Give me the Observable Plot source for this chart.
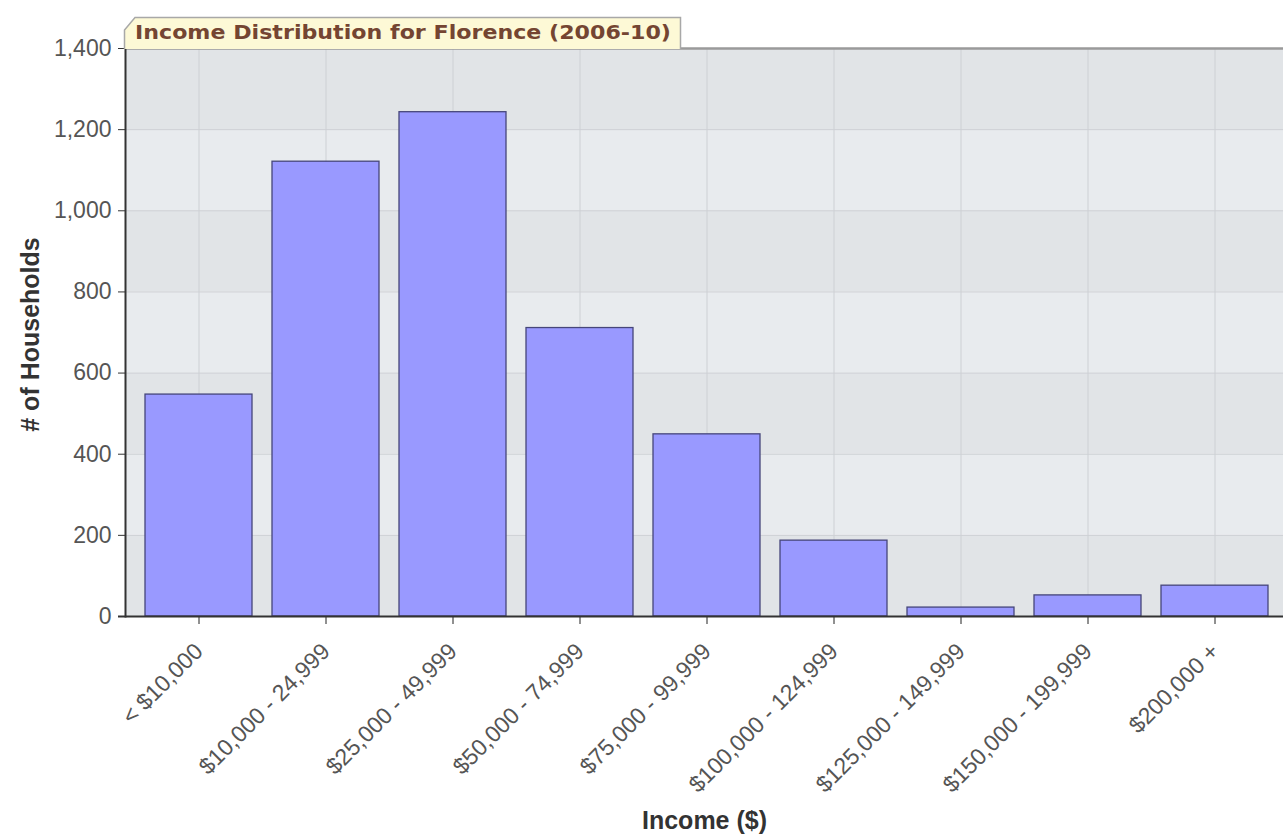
<!DOCTYPE html>
<html>
<head>
<meta charset="utf-8">
<script src="https://cdn.jsdelivr.net/npm/d3@7"></script>
<script src="https://cdn.jsdelivr.net/npm/@observablehq/plot@0.6"></script>
<style>
  html, body { margin: 0; padding: 0; background: #fff; }
  #wrap { position: relative; width: 1283px; height: 839px; }
  #title { position: absolute; left: 0; top: 0; }
</style>
</head>
<body>
<div id="wrap"></div>
<script>
const categories = ["< $10,000", "$10,000 - 24,999", "$25,000 - 49,999", "$50,000 - 74,999",
  "$75,000 - 99,999", "$100,000 - 124,999", "$125,000 - 149,999", "$150,000 - 199,999", "$200,000 +"];
const households = [547, 1121, 1243, 711, 449, 187, 22, 52, 76];
const yTicks = [0, 200, 400, 600, 800, 1000, 1200, 1400];
const titleText = "Income Distribution for Florence (2006-10)";
const xLabel = "Income ($)";
const yLabel = "# of Households";

const data = categories.map((c, i) => ({category: c, value: households[i]}));
const bands = yTicks.slice(0, -1).map((t, i) => ({y1: t, y2: yTicks[i + 1], dark: i % 2 === 0}));

const fontFam = "'Liberation Sans', Arial, sans-serif";

const chart = Plot.plot({
  width: 1283,
  height: 839,
  marginLeft: 125,
  marginRight: 0,
  marginTop: 48,
  marginBottom: 223,
  style: {fontFamily: fontFam, background: "#fff"},
  x: {domain: categories, paddingInner: 0.155, paddingOuter: 0.08, insetLeft: 8, insetRight: 3, label: null},
  y: {domain: [0, 1400], label: null},
  marks: [
    Plot.rect(bands, {y1: "y1", y2: "y2", fill: d => d.dark ? "#e1e4e7" : "#e8ebee"}),
    Plot.gridY(yTicks, {stroke: "#cdd0d4", strokeOpacity: 1}),
    Plot.gridX(categories, {stroke: "#cdd0d4", strokeOpacity: 1}),
    Plot.ruleY([1400], {stroke: "#9a9a9a", strokeWidth: 2.5}),
    Plot.barY(data, {x: "category", y: "value", fill: "#9999ff", stroke: "#46467a", strokeWidth: 1.3}),
    Plot.axisY({ticks: yTicks, tickFormat: d => d3.format(",")(d), fontSize: 23, fill: "#555",
      tickSize: 7, tickPadding: 7, stroke: "#333", label: null}),
    Plot.axisX({fontSize: 23, fill: "#555", tickRotate: -45, tickSize: 8, tickPadding: 23,
      stroke: "#222", label: null}),
    Plot.frame({anchor: "left", stroke: "#333", strokeWidth: 2}),
    Plot.ruleY([0], {stroke: "#333", strokeWidth: 2, insetLeft: -7}),
    Plot.text([yLabel], {frameAnchor: "left", textAnchor: "middle", dx: -95, dy: 2, rotate: -90, fontSize: 25,
      fontWeight: "bold", fill: "#333"}),
    Plot.text([xLabel], {frameAnchor: "bottom", textAnchor: "middle", dx: 0, dy: 212, fontSize: 25,
      fontWeight: "bold", fill: "#333"})
  ]
});
document.getElementById("wrap").appendChild(chart);

// title tab
const t = d3.select("#wrap").append("svg").attr("id", "title")
  .attr("width", 700).attr("height", 50);
t.append("path")
  .attr("d", "M124.5,49 L124.5,30 L135,17.5 L680.5,17.5 L680.5,49")
  .attr("fill", "#fdf9d6").attr("stroke", "#a8a8a8").attr("stroke-width", 1.5);
t.append("text")
  .attr("x", 135).attr("y", 39)
  .attr("font-family", "'DejaVu Sans', Verdana, sans-serif")
  .attr("font-weight", "bold").attr("font-size", 19)
  .attr("fill", "#744532")
  .attr("textLength", 536).attr("lengthAdjust", "spacingAndGlyphs")
  .text(titleText);
</script>
</body>
</html>
